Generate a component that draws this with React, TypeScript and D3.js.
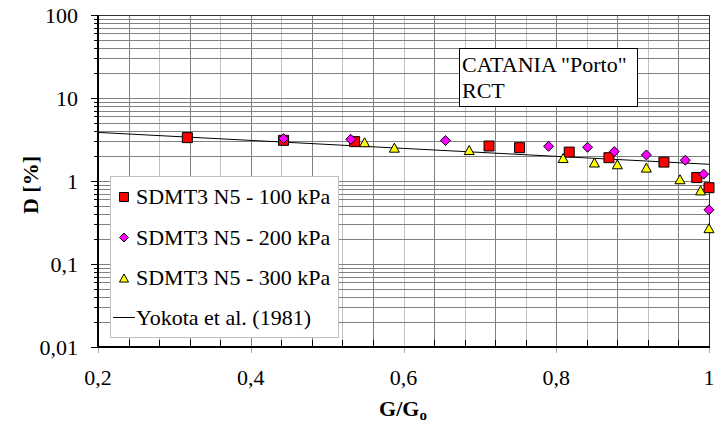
import * as d3 from "d3";

// G/Go values and damping D [%]
const gRatio100 = [0.317, 0.443, 0.536, 0.712, 0.752, 0.817, 0.869, 0.941, 0.984, 1.0];
const damping100 = [3.33, 3.09, 2.98, 2.64, 2.52, 2.23, 1.91, 1.69, 1.1, 0.83];

const gRatio200 = [0.443, 0.531, 0.655, 0.79, 0.841, 0.876, 0.918, 0.969, 0.993, 1.0];
const damping200 = [3.24, 3.18, 3.07, 2.62, 2.55, 2.26, 2.06, 1.78, 1.21, 0.45];

const gRatio300 = [0.549, 0.588, 0.686, 0.809, 0.85, 0.88, 0.918, 0.962, 0.989, 1.0];
const damping300 = [2.93, 2.52, 2.36, 1.89, 1.67, 1.59, 1.45, 1.05, 0.77, 0.27];

const yokotaG = [0.2, 0.6, 1.0];
const yokotaD = [3.85, 2.47, 1.59];

const xTickLabels = ["0,2", "0,4", "0,6", "0,8", "1"];
const yTickLabels = ["0,01", "0,1", "1", "10", "100"];
const legendLabels = [
  "SDMT3 N5 - 100 kPa",
  "SDMT3 N5 - 200 kPa",
  "SDMT3 N5 - 300 kPa",
  "Yokota et al. (1981)",
];

const W = 723,
  H = 430;
const left = 98,
  right = 709,
  top = 15,
  bottom = 347;
const FONT = '"Liberation Serif", "Times New Roman", Times, "DejaVu Serif", serif';

const x = d3.scaleLinear().domain([0.2, 1]).range([left, right]);
const y = d3.scaleLog().domain([0.01, 100]).range([bottom, top]);

const square = (cx: number, cy: number, s: number) =>
  `M${cx - s / 2},${cy - s / 2}h${s}v${s}h${-s}Z`;
const diamond = (cx: number, cy: number, s: number) =>
  `M${cx},${cy - s / 2}L${cx + s / 2},${cy}L${cx},${cy + s / 2}L${cx - s / 2},${cy}Z`;
const triangle = (cx: number, cy: number, s: number) =>
  `M${cx},${cy - s * 0.45}L${cx + s / 2},${cy + s * 0.45}L${cx - s / 2},${cy + s * 0.45}Z`;

export default function App() {
  const xGrid = d3.range(0, 21).map((i) => 0.2 + i * 0.04);
  const yGrid: number[] = [];
  [0.01, 0.1, 1, 10].forEach((dec) => {
    for (let k = 1; k <= 9; k++) yGrid.push(dec * k);
  });
  yGrid.push(100);
  const xMajor = [0.2, 0.4, 0.6, 0.8, 1];
  const yMajor = [0.01, 0.1, 1, 10, 100];

  const line = d3
    .line<number>()
    .x((d) => x(d))
    .y((_, i) => y(yokotaD[i]));

  const series = [
    { g: gRatio100, d: damping100, shape: square, fill: "#ff0000" },
    { g: gRatio200, d: damping200, shape: diamond, fill: "#ff00ff" },
    { g: gRatio300, d: damping300, shape: triangle, fill: "#ffff00" },
  ];

  const txt = { fontFamily: FONT };

  return (
    <svg
      width={W}
      height={H}
      style={{ position: "absolute", left: 0, top: 0, background: "#fff", fontFamily: FONT }}
    >
      {/* grid */}
      {xGrid.map((v, i) => (
        <line
          key={"xg" + i}
          x1={Math.round(x(v)) + 0.5}
          x2={Math.round(x(v)) + 0.5}
          y1={top}
          y2={bottom}
          stroke={i % 2 === 1 ? "#808080" : "#c0c0c0"}
        />
      ))}
      {yGrid.map((v, i) => (
        <line
          key={"yg" + i}
          x1={left}
          x2={right}
          y1={Math.round(y(v)) + 0.5}
          y2={Math.round(y(v)) + 0.5}
          stroke="#808080"
        />
      ))}
      {/* frame */}
      <line x1={left} x2={right} y1={top + 0.5} y2={top + 0.5} stroke="#333" />
      <line x1={right + 0.5} x2={right + 0.5} y1={top} y2={bottom} stroke="#333" />

      {/* y ticks */}
      {yGrid.map((v, i) => (
        <line
          key={"yt" + i}
          x1={yMajor.includes(v) ? left - 7 : left - 4}
          x2={left}
          y1={Math.round(y(v)) + 0.5}
          y2={Math.round(y(v)) + 0.5}
          stroke="#000"
        />
      ))}
      {/* x ticks */}
      {xGrid.map((v, i) => {
        const major = xMajor.some((m) => Math.abs(m - v) < 1e-6);
        return (
          <line
            key={"xt" + i}
            x1={Math.round(x(v)) + 0.5}
            x2={Math.round(x(v)) + 0.5}
            y1={major ? bottom : bottom - 7}
            y2={major ? bottom + 6 : bottom}
            stroke={major ? "#aaa" : "#000"}
          />
        );
      })}
      {/* axes */}
      <line x1={left} x2={left} y1={top} y2={bottom + 1} stroke="#000" strokeWidth={2} />
      <line x1={left - 1} x2={right + 1} y1={bottom} y2={bottom} stroke="#000" strokeWidth={2} />

      {/* tick labels */}
      {yMajor.map((v, i) => (
        <text key={"yl" + i} x={78} y={y(v) + 8} textAnchor="end" fontSize={22} style={txt}>
          {yTickLabels[i]}
        </text>
      ))}
      {xMajor.map((v, i) => (
        <text key={"xl" + i} x={x(v)} y={385} textAnchor="middle" fontSize={22} style={txt}>
          {xTickLabels[i]}
        </text>
      ))}

      {/* axis titles */}
      <text x={403} y={416} textAnchor="middle" fontSize={22} fontWeight="bold" style={txt}>
        G/G<tspan fontSize={15} dy={4}>o</tspan>
      </text>
      <text
        transform={`translate(38,${(top + bottom) / 2 + 4}) rotate(-90)`}
        textAnchor="middle"
        fontSize={22}
        fontWeight="bold"
        style={txt}
      >
        D [%]
      </text>

      {/* Yokota line */}
      <path d={line(yokotaG) || ""} fill="none" stroke="#000" strokeWidth={1} />

      {/* data */}
      {series.map((s, si) =>
        s.g.map((g, i) => (
          <path
            key={`p${si}-${i}`}
            d={s.shape(x(g), y(s.d[i]), 10)}
            fill={s.fill}
            stroke="#000"
            strokeWidth={1}
          />
        ))
      )}

      {/* annotation box */}
      <rect x={459.5} y={48.5} width={178} height={58} fill="#fff" stroke="#000" />
      <text x={462} y={72} fontSize={22} style={txt}>
        CATANIA "Porto"
      </text>
      <text x={462} y={98} fontSize={22} style={txt}>
        RCT
      </text>

      {/* legend */}
      <rect x={110.5} y={176.5} width={228} height={161} fill="#fff" stroke="#c0c0c0" />
      {series.map((s, i) => (
        <g key={"lg" + i}>
          <path d={s.shape(124, 197 + i * 40.5, 9)} fill={s.fill} stroke="#000" />
          <text x={136} y={204 + i * 40.5} fontSize={22} style={txt}>
            {legendLabels[i]}
          </text>
        </g>
      ))}
      <line x1={113} x2={135} y1={317.5} y2={317.5} stroke="#000" />
      <text x={136} y={325} fontSize={22} style={txt}>
        {legendLabels[3]}
      </text>
    </svg>
  );
}
